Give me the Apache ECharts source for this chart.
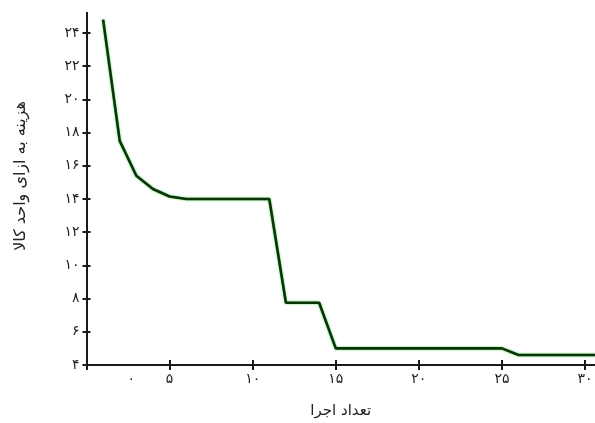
<!DOCTYPE html>
<html><head><meta charset="utf-8">
<script src="https://cdn.jsdelivr.net/npm/echarts@6/dist/echarts.min.js"></script>
<style>html,body{margin:0;padding:0;background:#fff}#c{width:595px;height:423px}</style>
</head><body><div id="c"></div>
<script>
const runs = [1, 2, 3, 4, 5, 6, 11, 12, 14, 15, 25, 26, 30.6];
const costs = [24.8, 17.5, 15.4, 14.6, 14.15, 14.0, 14.0, 7.75, 7.75, 5.0, 5.0, 4.6, 4.6];
const xTicks = [0, 5, 10, 15, 20, 25, 30];
const xLabelVals = [5, 10, 15, 20, 25, 30];
const zeroLabelPos = [2.7];
const yTicks = [4, 6, 8, 10, 12, 14, 16, 18, 20, 22, 24];
const xTitle = 'تعداد اجرا';
const yTitle = 'هزینه به ازای واحد کالا';

const fa = n => String(n).replace(/\d/g, d => '۰۱۲۳۴۵۶۷۸۹'[+d]);
const font = 'DejaVu Sans';
const axisCol = '#1a1a1a';
const chart = echarts.init(document.getElementById('c'));
const baseX = {type:'value', min:0, max:30.6, position:'bottom', splitLine:{show:false},
  axisLine:{lineStyle:{color:axisCol, width:2}}};
const baseY = {type:'value', min:4, max:25.2, position:'left', splitLine:{show:false},
  axisLine:{lineStyle:{color:axisCol, width:2}}};
chart.setOption({
  animation:false,
  grid:{left:86.5, right:0, top:13, bottom:58, containLabel:false, outerBoundsMode:'none'},
  xAxis:[
    Object.assign({}, baseX, {
      name:xTitle, nameLocation:'middle', nameGap:39,
      nameTextStyle:{fontFamily:font, fontSize:15, color:'#222'},
      axisTick:{customValues:xTicks, length:5, inside:false, lineStyle:{color:axisCol, width:2}},
      axisLabel:{customValues:xLabelVals, formatter:v=>fa(v), fontFamily:font, fontSize:14, color:'#222', margin:7}
    }),
    Object.assign({}, baseX, {
      axisTick:{customValues:xTicks, length:5, inside:true, lineStyle:{color:axisCol, width:2}},
      axisLabel:{customValues:zeroLabelPos, formatter:()=> '۰', fontFamily:font, fontSize:14, color:'#222', margin:7}
    })
  ],
  yAxis:[
    Object.assign({}, baseY, {
      name:yTitle, nameLocation:'middle', nameGap:58,
      nameTextStyle:{fontFamily:font, fontSize:16, color:'#222', padding:[0,0,0,26]},
      axisTick:{customValues:yTicks, length:4, inside:false, lineStyle:{color:axisCol, width:2}},
      axisLabel:{customValues:yTicks, formatter:v=>fa(v), fontFamily:font, fontSize:14, color:'#222', margin:7}
    }),
    Object.assign({}, baseY, {
      axisTick:{customValues:yTicks, length:4, inside:true, lineStyle:{color:axisCol, width:2}},
      axisLabel:{show:false}
    })
  ],
  series:[{
    type:'line', xAxisIndex:0, yAxisIndex:0, symbol:'none',
    data: runs.map((x,i)=>[x, costs[i]]),
    lineStyle:{color:'#0c330c', width:2.6, shadowColor:'rgba(40,200,40,0.9)', shadowBlur:2}
  }]
});
</script></body></html>
